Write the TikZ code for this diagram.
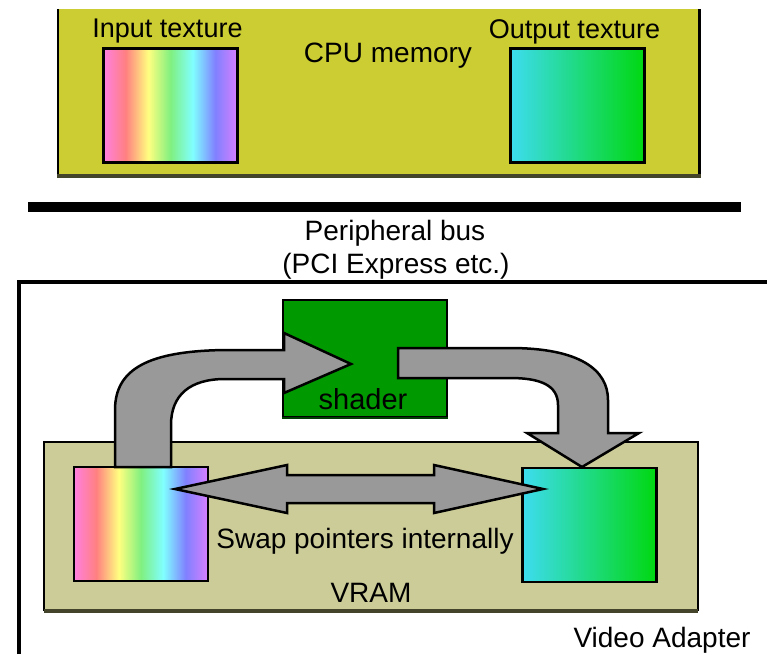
\documentclass[tikz,border=0pt]{standalone}
\usepackage{fontspec}
\setmainfont{Liberation Sans}

\definecolor{cpuyellow}{HTML}{CCCC33}
\definecolor{vramkhaki}{HTML}{CCCC99}
\definecolor{shadergreen}{HTML}{009900}
\definecolor{arrowgray}{HTML}{999999}
\definecolor{boxshadow}{HTML}{44442A}
\definecolor{rbpink}{HTML}{FF80E0}
\definecolor{rbsalmon}{HTML}{FF8080}
\definecolor{rbyellow}{HTML}{FFFF80}
\definecolor{rbgreen}{HTML}{80F080}
\definecolor{rbcyan}{HTML}{80FFFF}
\definecolor{rbblue}{HTML}{8080FF}
\definecolor{rbviolet}{HTML}{D880FF}
\definecolor{outcyan}{HTML}{3DDCF0}
\definecolor{outgreen}{HTML}{00D810}

\pgfdeclarehorizontalshading{rainbow}{100bp}{color(0bp)=(rbpink);
  color(25bp)=(rbpink);
  color(33.3bp)=(rbsalmon);
  color(41.7bp)=(rbyellow);
  color(50bp)=(rbgreen);
  color(58.3bp)=(rbcyan);
  color(66.7bp)=(rbblue);
  color(75bp)=(rbviolet);
  color(100bp)=(rbviolet)}
\pgfdeclarehorizontalshading{cyangreen}{100bp}{color(0bp)=(outcyan);
  color(25bp)=(outcyan);
  color(75bp)=(outgreen);
  color(100bp)=(outgreen)}

\begin{document}
\begin{tikzpicture}[x=1pt,y=-1pt,
    label/.style={font=\fontsize{28}{30}\selectfont,anchor=base,inner sep=0pt},
    texbox/.style={draw=black,line width=2.5pt,minimum width=134pt,minimum height=114pt,inner sep=0pt},
    blockarrow/.style={draw=black,line width=2.5pt,fill=arrowgray,line join=miter}]

    \useasboundingbox (0,0) rectangle (767,654);

    % cpu memory
    \fill[cpuyellow] (57,9) rectangle (701,176);
    \draw[line width=2pt] (58,9) -- (58,175);
    \draw[line width=3pt] (699.5,9) -- (699.5,175);
    \draw[boxshadow,line width=4pt] (57,176) -- (701,176);
    \node[label] (cpulabel) at (388,62) {CPU memory};
    \node[label,font=\fontsize{27}{29}\selectfont] (inlabel) at (167.5,37) {Input texture};
    \node[label,font=\fontsize{27}{29}\selectfont] (outlabel) at (574.5,38) {Output texture};
    \node[texbox,shade,shading=rainbow] (cpuin) at (170.5,105.5) {};
    \node[texbox,shade,shading=cyangreen] (cpuout) at (577.5,105.5) {};

    % peripheral bus
    \draw[line width=10pt] (28,207) -- (741,207);
    \node[label] (buslabel) at (395,240) {Peripheral bus};
    \node[label] (pcilabel) at (396,273) {(PCI Express etc.)};

    % video adapter
    \draw[line width=4.5pt] (19,654) -- (19,282) -- (767,282);
    \node[label] (adapterlabel) at (662,647) {Video Adapter};

    % vram
    \draw[fill=vramkhaki,line width=1.5pt] (44,442) rectangle (698,610);
    \draw[boxshadow,line width=4pt] (44,611) -- (698,611);
    \node[label] (vramlabel) at (371,602) {VRAM};
    \node[texbox,shade,shading=rainbow] (vramin) at (141,524) {};
    \node[texbox,shade,shading=cyangreen] (vramout) at (589.5,525) {};

    % shader
    \node[draw=black,line width=2pt,fill=shadergreen,minimum width=164pt,minimum height=117pt,inner sep=0pt] (shader) at (365,358.5) {};
    \draw[shadergreen!40!black,line width=2.5pt] (shader.south west) -- (shader.south east);

    % arrows
    \draw[blockarrow] (115,467) -- (115,410) .. controls (115,368) and (150,351) .. (225,350)
      -- (284,350) -- (284,333) -- (351,364) -- (284,393) -- (284,379) -- (225,379)
      .. controls (190,379) and (171,395) .. (171,425) -- (171,467) -- cycle;
    \draw[blockarrow] (398,348) -- (510,348) .. controls (580,348) and (608,370) .. (608,400)
      -- (608,433) -- (639,433) -- (582,467) -- (527,433) -- (558,433) -- (558,405)
      .. controls (558,385) and (540,378) .. (510,378) -- (398,378) -- cycle;
    \draw[blockarrow] (175,489) -- (287,465) -- (287,475) -- (434,475) -- (434,465)
      -- (543,489) -- (434,513) -- (434,503) -- (287,503) -- (287,513) -- cycle;

    \node[label,font=\fontsize{29}{31}\selectfont] (shaderlabel) at (363,409) {shader};
    \node[label] (swaplabel) at (365,548) {Swap pointers internally};

\end{tikzpicture}
\end{document}
